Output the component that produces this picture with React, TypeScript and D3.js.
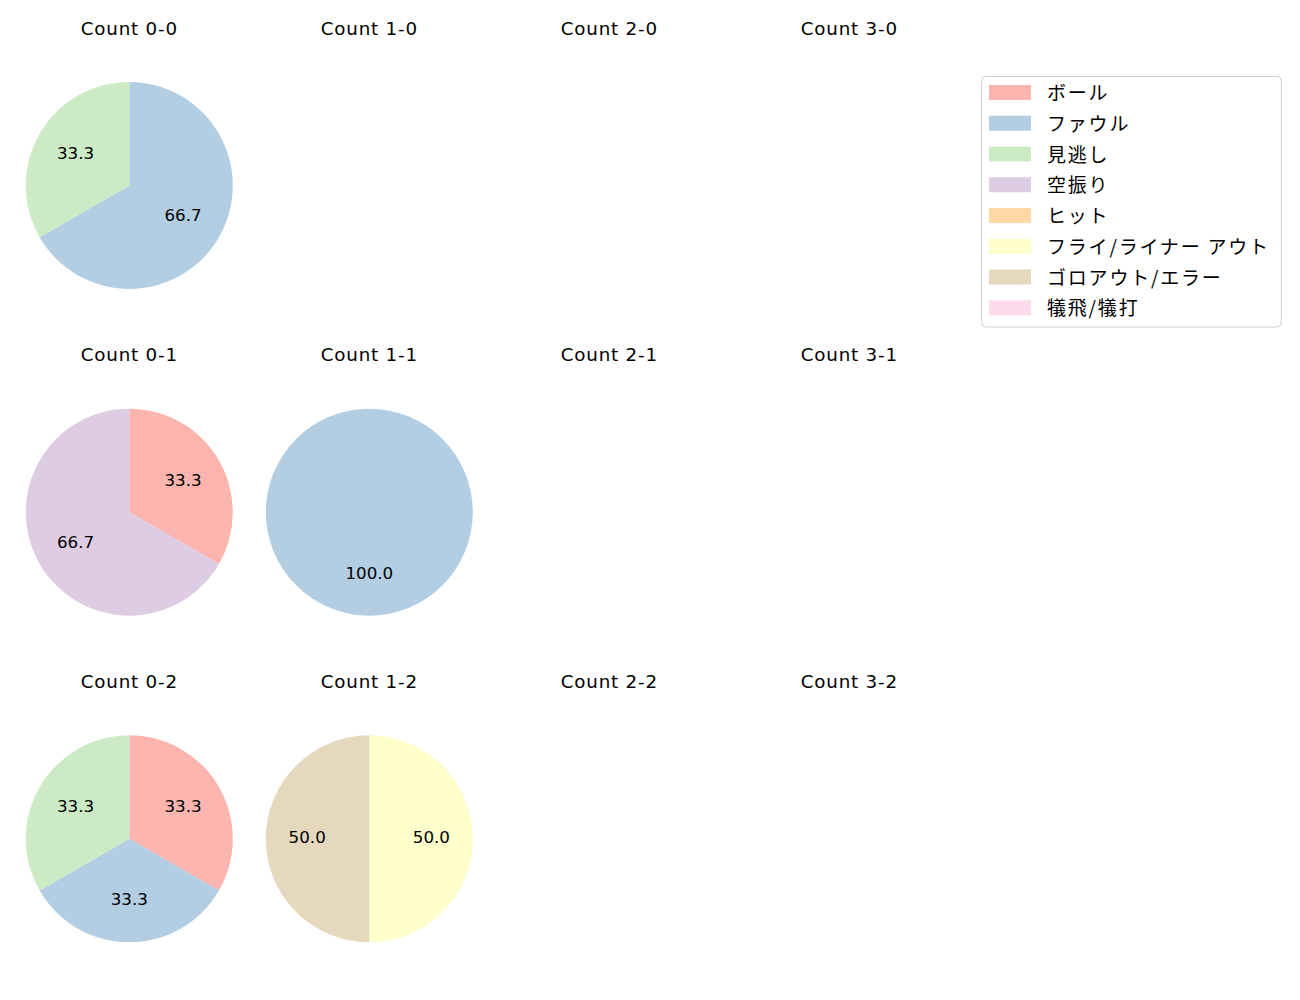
import React from "react";
import * as d3 from "d3";

const categories = ["ボール", "ファウル", "見逃し", "空振り", "ヒット", "フライ/ライナー アウト", "ゴロアウト/エラー", "犠飛/犠打"];
const colors = ["#fbb4ae", "#b3cde3", "#ccebc5", "#decbe4", "#fed9a6", "#ffffcc", "#e5d8bd", "#fddaec"];

const balls = [0, 1, 2, 3];
const strikes = [0, 1, 2];

// values per count "balls-strikes", in category order
const count00 = [0, 2, 1, 0, 0, 0, 0, 0];
const count01 = [1, 0, 0, 2, 0, 0, 0, 0];
const count02 = [1, 1, 1, 0, 0, 0, 0, 0];
const count11 = [0, 1, 0, 0, 0, 0, 0, 0];
const count12 = [0, 0, 0, 0, 0, 1, 1, 0];

const countData: Record<string, number[]> = {
  "0-0": count00,
  "0-1": count01,
  "0-2": count02,
  "1-1": count11,
  "1-2": count12,
};

const LATIN = "'DejaVu Sans', 'Noto Sans', sans-serif";
const JP = "'Noto Sans CJK JP', 'Noto Sans', sans-serif";

export default function App() {
  const colX = d3.scaleLinear().domain([0, 3]).range([129.3, 849.3]);
  const rowY = d3.scaleLinear().domain([0, 2]).range([185.5, 838.8]);
  const R = 103.5;
  const pie = d3
    .pie<number>()
    .sort(null)
    .value((d) => d)
    .startAngle(0)
    .endAngle(2 * Math.PI);
  const arc = d3.arc<d3.PieArcDatum<number>>().innerRadius(0).outerRadius(R);

  const cells: React.ReactNode[] = [];
  strikes.forEach((s) => {
    balls.forEach((b) => {
      const key = `${b}-${s}`;
      const cx = colX(b);
      const cy = rowY(s);
      const vals = countData[key];
      const total = vals ? d3.sum(vals) : 0;
      const arcs = vals ? pie(vals) : [];
      cells.push(
        <g key={key}>
          <text x={cx} y={cy - 150.7} textAnchor="middle" fontSize={18.3} letterSpacing={0.8} fontFamily={LATIN} fill="#000">
            {`Count ${key}`}
          </text>
          {arcs.map((a, i) =>
            a.data > 0 ? (
              <path key={i} d={arc(a) || ""} transform={`translate(${cx},${cy})`} fill={colors[i]} />
            ) : null
          )}
          {arcs.map((a, i) => {
            if (a.data <= 0) return null;
            const mid = (a.startAngle + a.endAngle) / 2;
            const lx = cx + Math.sin(mid) * R * 0.6;
            const ly = cy - Math.cos(mid) * R * 0.6;
            return (
              <text key={"l" + i} x={lx} y={ly + 4.5} textAnchor="middle" fontSize={16.7} fontFamily={LATIN} fill="#000">
                {((a.data / total) * 100).toFixed(1)}
              </text>
            );
          })}
        </g>
      );
    });
  });

  const legendY = d3.scaleLinear().domain([0, categories.length - 1]).range([92.5, 307.8]);

  return (
    <svg width={1300} height={1000} style={{ display: "block", position: "absolute", left: 0, top: 0 }}>
      <rect width={1300} height={1000} fill="#fff" />
      {cells}
      <rect x={981.7} y={76.5} width={299.5} height={250.5} rx={4} fill="#fff" stroke="#d0d0d0" />
      {categories.map((c, i) => (
        <g key={c}>
          <rect x={989} y={legendY(i) - 7.5} width={42} height={15} fill={colors[i]} />
          <text x={1047} y={legendY(i) - 1} dominantBaseline="central" fontSize={19} letterSpacing={1.8} fontFamily={JP} fill="#000">
            {c}
          </text>
        </g>
      ))}
    </svg>
  );
}
